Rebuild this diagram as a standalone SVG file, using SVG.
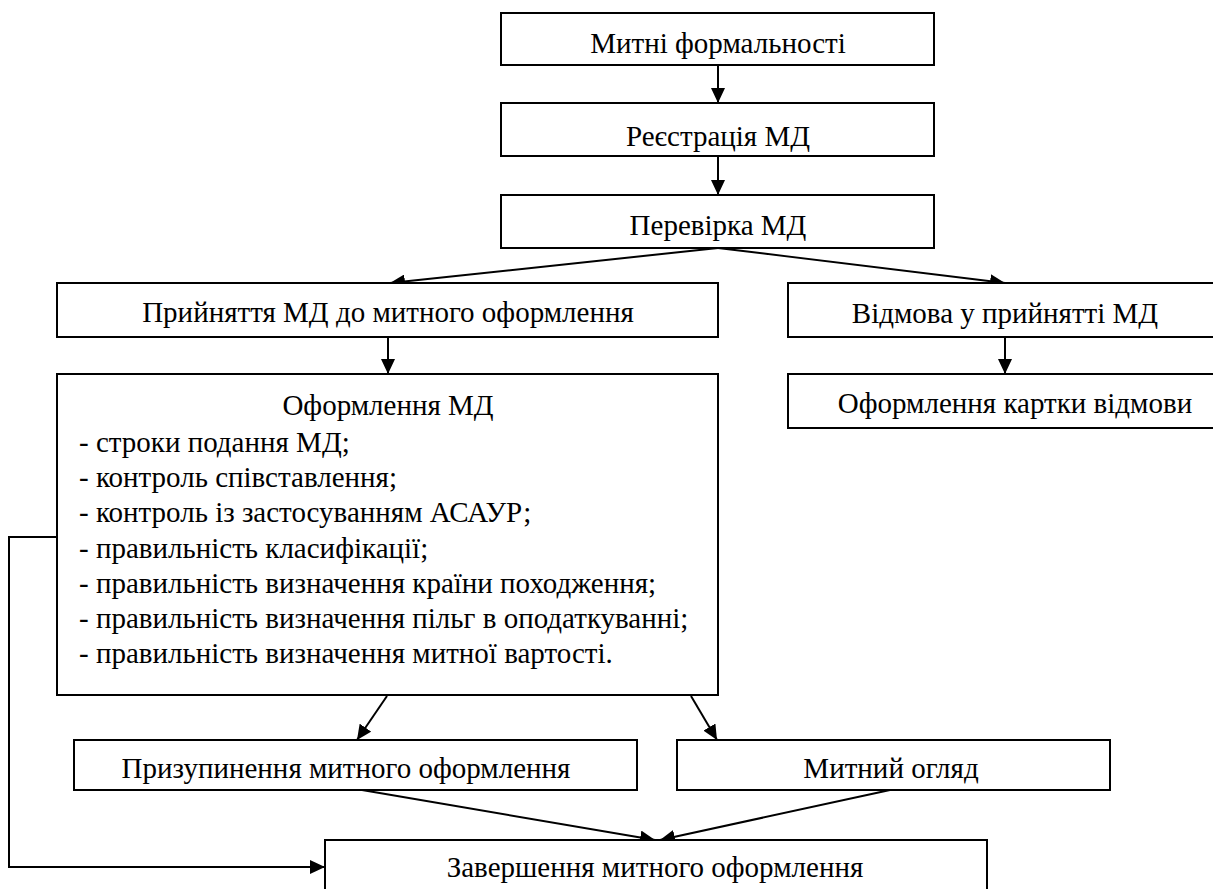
<svg xmlns="http://www.w3.org/2000/svg" width="1213" height="889" viewBox="0 0 1213 889">
<style>
.box{fill:#fff;stroke:#000;stroke-width:2}
.t{font-family:'Liberation Serif','Times New Roman','DejaVu Serif',serif;font-size:29px;fill:#000}
.c{text-anchor:middle}
.ln{fill:none;stroke:#000;stroke-width:2}
</style>
<defs>
<marker id="ah" markerUnits="userSpaceOnUse" markerWidth="15" markerHeight="14" refX="15" refY="7" orient="auto">
<path d="M0,0 L15,7 L0,14 Z" fill="#000"/>
</marker>
</defs>
<rect width="1213" height="889" fill="#fff"/>
<g id="connectors">
<line class="ln" x1="718" y1="65" x2="718" y2="103" marker-end="url(#ah)"/>
<line class="ln" x1="718" y1="156" x2="718" y2="195" marker-end="url(#ah)"/>
<line class="ln" x1="718" y1="248" x2="390" y2="283" marker-end="url(#ah)"/>
<line class="ln" x1="718" y1="248" x2="1005" y2="283" marker-end="url(#ah)"/>
<line class="ln" x1="388" y1="337" x2="388" y2="374" marker-end="url(#ah)"/>
<line class="ln" x1="1005" y1="337" x2="1005" y2="374" marker-end="url(#ah)"/>
<line class="ln" x1="387" y1="696" x2="357" y2="740" marker-end="url(#ah)"/>
<line class="ln" x1="691" y1="696" x2="717" y2="740" marker-end="url(#ah)"/>
<line class="ln" x1="362" y1="790" x2="655" y2="840" marker-end="url(#ah)"/>
<line class="ln" x1="890" y1="790" x2="660" y2="840" marker-end="url(#ah)"/>
<polyline class="ln" points="57,537 9,537 9,867 325,867" marker-end="url(#ah)"/>
</g>
<g font-family="Liberation Serif, serif">
<g id="n1"><rect class="box" x="501" y="13" width="433" height="52"/><text class="t c" x="718" y="53">Митні формальності</text></g>
<g id="n2"><rect class="box" x="501" y="103" width="433" height="53"/><text class="t c" x="718" y="146">Реєстрація МД</text></g>
<g id="n3"><rect class="box" x="501" y="195" width="433" height="53"/><text class="t c" x="718" y="235">Перевірка МД</text></g>
<g id="n4"><rect class="box" x="57" y="283" width="661" height="54"/><text class="t c" x="388" y="322">Прийняття МД до митного оформлення</text></g>
<g id="n5"><rect class="box" x="788" y="283" width="440" height="54"/><text class="t c" x="1005" y="323">Відмова у прийнятті МД</text></g>
<g id="n6"><rect class="box" x="788" y="374" width="440" height="54"/><text class="t c" x="1015" y="413">Оформлення картки відмови</text></g>
<g id="n7"><rect class="box" x="57" y="374" width="661" height="321"/>
<text class="t c" x="388" y="415">Оформлення МД</text>
<text class="t" x="79" y="452">- строки подання МД;</text>
<text class="t" x="79" y="487">- контроль співставлення;</text>
<text class="t" x="79" y="522">- контроль із застосуванням АСАУР;</text>
<text class="t" x="79" y="558">- правильність класифікації;</text>
<text class="t" x="79" y="593">- правильність визначення країни походження;</text>
<text class="t" x="79" y="628">- правильність визначення пільг в оподаткуванні;</text>
<text class="t" x="79" y="663">- правильність визначення митної вартості.</text>
</g>
<g id="n8"><rect class="box" x="74" y="740" width="563" height="50"/><text class="t c" x="346" y="778">Призупинення митного оформлення</text></g>
<g id="n9"><rect class="box" x="677" y="740" width="433" height="50"/><text class="t c" x="891" y="778">Митний огляд</text></g>
<g id="n10"><rect class="box" x="325" y="840" width="662" height="60"/><text class="t c" x="655" y="877">Завершення митного оформлення</text></g>
</g>
</svg>
